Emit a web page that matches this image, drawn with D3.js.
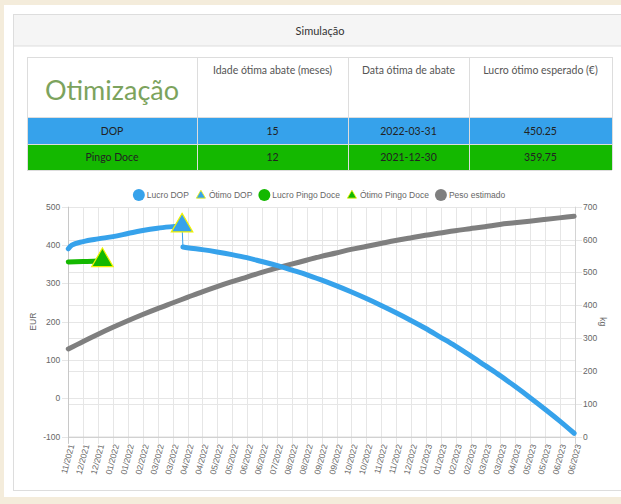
<!DOCTYPE html>
<html>
<head>
<meta charset="utf-8">
<script src="https://cdn.jsdelivr.net/npm/d3@7"></script>
<style>
body { margin: 0; background: #f4ecdb; }
svg { display: block; }
</style>
</head>
<body>
<div id="page"></div>
<script>
// Table values
var headerCols = ["Idade ótima abate (meses)", "Data ótima de abate", "Lucro ótimo esperado (€)"];
var rowNames = ["DOP", "Pingo Doce"];
var rowAges = [15, 12];
var rowDates = ["2022-03-31", "2021-12-30"];
var rowProfits = [450.25, 359.75];

// Chart values
var seriesNames = ["Lucro DOP", "Ótimo DOP", "Lucro Pingo Doce", "Ótimo Pingo Doce", "Peso estimado"];
var xDomain = ["2021-11-21", "2023-06-23"];
var tickLabels = ["11/2021", "12/2021", "12/2021", "01/2022", "01/2022", "02/2022", "03/2022", "03/2022",
                  "04/2022", "04/2022", "05/2022", "05/2022", "06/2022", "06/2022", "07/2022", "08/2022",
                  "08/2022", "09/2022", "09/2022", "10/2022", "10/2022", "11/2022", "11/2022", "12/2022",
                  "01/2023", "01/2023", "02/2023", "02/2023", "03/2023", "03/2023", "04/2023", "05/2023",
                  "05/2023", "06/2023", "06/2023"];
var eurTicks = [-100, 0, 100, 200, 300, 400, 500];
var kgTicks = [0, 100, 200, 300, 400, 500, 600, 700];

// Lucro DOP, before and after the drop
var dopDatesA = ["2021-11-21", "2021-11-25", "2021-12-08", "2021-12-25", "2022-01-11", "2022-01-28",
                 "2022-02-14", "2022-03-03", "2022-03-20", "2022-03-31"];
var dopValuesA = [390, 400, 409, 416, 422, 430, 438, 444, 448, 450.25];
var dopDatesB = ["2022-04-01", "2022-04-06", "2022-04-23", "2022-05-10", "2022-05-27", "2022-06-13",
                 "2022-06-30", "2022-07-17", "2022-08-03", "2022-08-20", "2022-09-06", "2022-09-23",
                 "2022-10-10", "2022-10-27", "2022-11-13", "2022-11-30", "2022-12-17", "2023-01-03",
                 "2023-01-20", "2023-02-06", "2023-02-23", "2023-03-12", "2023-03-29", "2023-04-15",
                 "2023-05-02", "2023-05-19", "2023-06-05", "2023-06-22"];
var dopValuesB = [395, 393, 388, 382, 375, 367, 357, 347, 335, 323, 309, 294, 278, 261, 243, 224, 204,
                  183, 160, 137, 112, 86, 60, 32, 3, -27, -58, -91];

// Lucro Pingo Doce
var pdDates = ["2021-11-21", "2021-12-08", "2021-12-25", "2021-12-30"];
var pdValues = [356, 357, 358.5, 359.75];

// Peso estimado (kg)
var pesoDates = ["2021-11-21", "2021-12-08", "2021-12-25", "2022-01-11", "2022-01-28", "2022-02-14",
                 "2022-03-03", "2022-03-20", "2022-04-06", "2022-04-23", "2022-05-10", "2022-05-27",
                 "2022-06-13", "2022-06-30", "2022-07-17", "2022-08-03", "2022-08-20", "2022-09-06",
                 "2022-09-23", "2022-10-10", "2022-10-27", "2022-11-13", "2022-11-30", "2022-12-17",
                 "2023-01-03", "2023-01-20", "2023-02-06", "2023-02-23", "2023-03-12", "2023-03-29",
                 "2023-04-15", "2023-05-02", "2023-05-19", "2023-06-05", "2023-06-22"];
var pesoValues = [267, 290, 312, 333, 353, 372, 390, 407, 424, 441, 457, 472, 486, 500, 513, 525, 537,
                  549, 559, 570, 579, 588, 597, 605, 613, 620, 627, 633, 639, 646, 651, 656, 661, 666, 671];

// Colours
var blue = "#36a2eb", green = "#14b800", grey = "#7f7f7f";
var chartFont = "'Liberation Sans', Arial, sans-serif";
var pageFont = "Lato, 'Open Sans', sans-serif";

var parse = d3.timeParse("%Y-%m-%d");
function zipSeries(dates, values) {
    return dates.map(function(d, i) { return {date: parse(d), v: values[i]}; });
}

var W = 621, H = 504;
var svg = d3.select("#page").append("svg").attr("width", W).attr("height", H);

svg.append("rect").attr("width", W).attr("height", H).attr("fill", "#f4ecdb");
svg.append("rect").attr("x", 4).attr("y", 5).attr("width", W).attr("height", 492).attr("fill", "#fff");

// Panel with header
svg.append("rect").attr("x", 13.5).attr("y", 14.5).attr("width", W).attr("height", 476)
   .attr("fill", "#fff").attr("stroke", "#ddd");
svg.append("rect").attr("x", 13.5).attr("y", 14.5).attr("width", W).attr("height", 31.5)
   .attr("fill", "#f5f5f5").attr("stroke", "#ddd");
svg.append("text").attr("x", 320).attr("y", 35).attr("text-anchor", "middle")
   .style("font-family", pageFont).style("font-size", "11px").attr("fill", "#333").text("Simulação");

// Table
var colX = [27, 197, 348, 469, 612];
var rowY = [57, 117, 144, 170];
var rowFill = [blue, green];
var table = svg.append("g").style("font-family", pageFont);

table.append("rect").attr("x", colX[0]).attr("y", rowY[0]).attr("width", colX[4] - colX[0])
     .attr("height", rowY[1] - rowY[0]).attr("fill", "#fff");
table.selectAll("rect.row").data(rowNames).enter().append("rect").attr("class", "row")
     .attr("x", colX[0]).attr("y", function(d, i) { return rowY[i + 1]; })
     .attr("width", colX[4] - colX[0])
     .attr("height", function(d, i) { return rowY[i + 2] - rowY[i + 1]; })
     .attr("fill", function(d, i) { return rowFill[i]; });

table.selectAll("line.v").data(colX).enter().append("line").attr("class", "v")
     .attr("x1", function(d) { return d + 0.5; }).attr("x2", function(d) { return d + 0.5; })
     .attr("y1", rowY[0]).attr("y2", rowY[3]).attr("stroke", "#ddd");
table.selectAll("line.h").data(rowY).enter().append("line").attr("class", "h")
     .attr("x1", colX[0]).attr("x2", colX[4])
     .attr("y1", function(d) { return d + 0.5; }).attr("y2", function(d) { return d + 0.5; })
     .attr("stroke", "#ddd");

table.append("text").attr("x", (colX[0] + colX[1]) / 2).attr("y", 100).attr("text-anchor", "middle")
     .style("font-size", "27px").attr("fill", "#7ca35d").text("Otimização");
table.selectAll("text.head").data(headerCols).enter().append("text").attr("class", "head")
     .attr("x", function(d, i) { return (colX[i + 1] + colX[i + 2]) / 2; }).attr("y", 74)
     .attr("text-anchor", "middle").style("font-size", "10.5px").attr("fill", "#555").text(function(d) { return d; });

rowNames.forEach(function(name, i) {
    var cells = [name, rowAges[i], rowDates[i], rowProfits[i].toFixed(2)];
    table.selectAll("text.r" + i).data(cells).enter().append("text").attr("class", "r" + i)
         .attr("x", function(d, j) { return (colX[j] + colX[j + 1]) / 2; })
         .attr("y", (rowY[i + 1] + rowY[i + 2]) / 2 + 4)
         .attr("text-anchor", "middle").style("font-size", "10.5px").attr("fill", "#222")
         .text(function(d) { return d; });
});

// Chart area (pixels)
var plotLeft = 68.3, plotRight = 575, plotTop = 206.7, plotBottom = 436.7;
var x = d3.scaleTime().domain(xDomain.map(parse)).range([plotLeft, plotRight]);
var yEur = d3.scaleLinear().domain([-100, 500]).range([plotBottom, plotTop]);
var yKg = d3.scaleLinear().domain([0, 700]).range([plotBottom, plotTop]);

var t0 = x.domain()[0].getTime(), t1 = x.domain()[1].getTime();
var tickDates = tickLabels.map(function(l, k) { return new Date(t0 + k * (t1 - t0) / (tickLabels.length - 1)); });

var chart = svg.append("g").style("font-family", chartFont);
var grid = chart.append("g").attr("stroke", "#e6e6e6").attr("shape-rendering", "crispEdges");

grid.selectAll("line.gx").data(tickDates).enter().append("line")
    .attr("x1", function(d) { return Math.round(x(d)) + 0.5; }).attr("x2", function(d) { return Math.round(x(d)) + 0.5; })
    .attr("y1", plotTop).attr("y2", plotBottom + 7);
grid.selectAll("line.ge").data(eurTicks).enter().append("line")
    .attr("x1", plotLeft - 6).attr("x2", plotRight)
    .attr("y1", function(d) { return Math.round(yEur(d)) + 0.5; }).attr("y2", function(d) { return Math.round(yEur(d)) + 0.5; });
grid.selectAll("line.gk").data(kgTicks).enter().append("line")
    .attr("x1", plotLeft).attr("x2", plotRight + 7)
    .attr("y1", function(d) { return Math.round(yKg(d)) + 0.5; }).attr("y2", function(d) { return Math.round(yKg(d)) + 0.5; });

// axis borders
chart.append("line").attr("x1", plotLeft).attr("x2", plotRight).attr("y1", plotBottom + 0.5).attr("y2", plotBottom + 0.5)
     .attr("stroke", "#c8c8c8");
chart.append("line").attr("x1", Math.round(plotLeft) + 0.5).attr("x2", Math.round(plotLeft) + 0.5)
     .attr("y1", plotTop).attr("y2", plotBottom + 7).attr("stroke", "#c8c8c8");
chart.append("line").attr("x1", plotRight + 0.5).attr("x2", plotRight + 0.5)
     .attr("y1", plotTop).attr("y2", plotBottom + 7).attr("stroke", "#d4d4d4");

// tick labels
chart.selectAll("text.tx").data(tickDates).enter().append("text")
     .attr("transform", function(d) { return "translate(" + (x(d) + 4) + "," + (plotBottom + 8) + ") rotate(-75)"; })
     .attr("text-anchor", "end").attr("dominant-baseline", "middle")
     .style("font-size", "8.5px").attr("fill", "#666")
     .text(function(d, i) { return tickLabels[i]; });
chart.selectAll("text.te").data(eurTicks).enter().append("text")
     .attr("x", plotLeft - 8).attr("y", function(d) { return yEur(d) + 3; })
     .attr("text-anchor", "end").style("font-size", "8.5px").attr("fill", "#666").text(function(d) { return d; });
chart.selectAll("text.tk").data(kgTicks).enter().append("text")
     .attr("x", plotRight + 8).attr("y", function(d) { return yKg(d) + 3; })
     .style("font-size", "8.5px").attr("fill", "#666").text(function(d) { return d; });

chart.append("text").attr("transform", "translate(36," + (plotTop + plotBottom) / 2 + ") rotate(-90)")
     .attr("text-anchor", "middle").style("font-size", "8.5px").attr("fill", "#666").text("EUR");
chart.append("text").attr("transform", "translate(600," + (plotTop + plotBottom) / 2 + ") rotate(90)")
     .attr("text-anchor", "middle").style("font-size", "8.5px").attr("fill", "#666").text("kg");

// Lines
var lineEur = d3.line().x(function(d) { return x(d.date); }).y(function(d) { return yEur(d.v); }).curve(d3.curveMonotoneX);
var lineKg = d3.line().x(function(d) { return x(d.date); }).y(function(d) { return yKg(d.v); }).curve(d3.curveMonotoneX);

function thick(path, color) {
    return chart.append("path").attr("d", path).attr("fill", "none").attr("stroke", color)
                .attr("stroke-width", 5).attr("stroke-linecap", "round").attr("stroke-linejoin", "round");
}

var dopA = zipSeries(dopDatesA, dopValuesA), dopB = zipSeries(dopDatesB, dopValuesB);
thick(lineKg(zipSeries(pesoDates, pesoValues)), grey);
thick(lineEur(zipSeries(pdDates, pdValues)), green);
thick(lineEur(dopA), blue);
thick(lineEur(dopB), blue);
chart.append("line").attr("x1", x(dopA[dopA.length - 1].date)).attr("y1", yEur(dopA[dopA.length - 1].v))
     .attr("x2", x(dopB[0].date)).attr("y2", yEur(dopB[0].v)).attr("stroke", blue).attr("stroke-width", 1);

// Optimum triangles
var tri = d3.symbol().type(d3.symbolTriangle).size(200);
var optFill = [blue, green];
chart.selectAll("path.opt").data(rowDates).enter().append("path").attr("class", "opt")
     .attr("d", tri)
     .attr("transform", function(d, i) { return "translate(" + x(parse(d)) + "," + yEur(rowProfits[i]) + ")"; })
     .attr("fill", function(d, i) { return optFill[i]; })
     .attr("stroke", "#f2f200").attr("stroke-width", 1.2);

// Legend
var legendSym = ["circle", "triangle", "circle", "triangle", "circle"];
var legendCol = [blue, blue, green, green, grey];
var legend = chart.append("g");
var cursor = 0;
seriesNames.forEach(function(name, i) {
    var g = legend.append("g").attr("transform", "translate(" + cursor + ",0)");
    if (legendSym[i] == "circle") {
        g.append("circle").attr("cx", 6).attr("cy", 0).attr("r", 6).attr("fill", legendCol[i]);
    } else {
        g.append("path").attr("d", d3.symbol().type(d3.symbolTriangle).size(36)())
         .attr("transform", "translate(6,0.5)").attr("fill", legendCol[i])
         .attr("stroke", "#f2f200").attr("stroke-width", 0.8);
    }
    var t = g.append("text").attr("x", 14).attr("y", 3).style("font-size", "8.5px").attr("fill", "#666").text(name);
    cursor += 14 + t.node().getComputedTextLength() + 6;
});
legend.attr("transform", "translate(" + (319 - (cursor - 6) / 2) + ",195)");
</script>
</body>
</html>
